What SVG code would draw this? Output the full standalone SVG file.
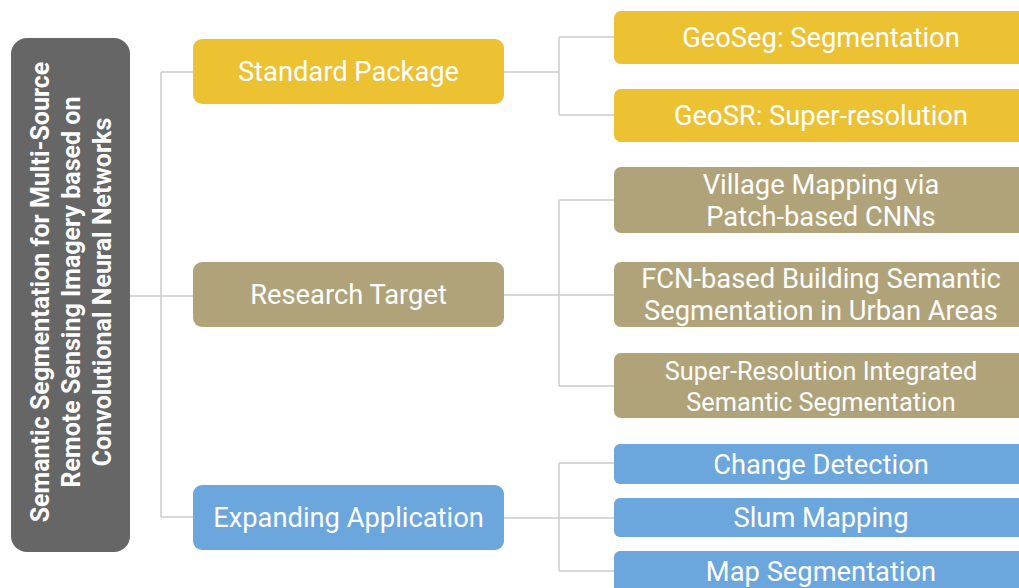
<svg xmlns="http://www.w3.org/2000/svg" width="1019" height="588" viewBox="0 0 1019 588">
<style>
.t{font-family:Roboto,"Liberation Sans",sans-serif;font-size:27.3px;fill:#fff;text-anchor:middle;dominant-baseline:central}
.s{font-size:25.3px}
.r{font-family:Roboto,"Liberation Sans",sans-serif;font-size:25px;font-weight:bold;fill:#fff;text-anchor:middle;dominant-baseline:central}
.y{fill:#ECC232}.o{fill:#B0A37A}.b{fill:#6BA6DC}.g{fill:#666666}
.c{fill:none;stroke:#cccccc;stroke-width:1.5}
</style>
<rect width="1019" height="588" fill="#fff"/>
<g id="connectors">
<path class="c" d="M130 296H161M161 72V517M161 72H193M161 296H193M161 517H193"/>
<path class="c" d="M504 72H559M559 37V115M559 37H614M559 115H614"/>
<path class="c" d="M504 295H559M559 200V386M559 200H614M559 295H614M559 386H614"/>
<path class="c" d="M504 518H559M559 463V571M559 463H614M559 518H614M559 571H614"/>
</g>
<g id="root"><rect class="g" x="11" y="38" width="119" height="514" rx="16"/>
<text class="r" transform="translate(71,292) rotate(-90)"><tspan x="0" y="-31">Semantic Segmentation for Multi-Source</tspan><tspan x="0" y="0">Remote Sensing Imagery based on</tspan><tspan x="0" y="31">Convolutional Neural Networks</tspan></text></g>
<g id="standard"><rect class="y" x="193" y="39" width="311" height="65" rx="9"/><text class="t" x="348.5" y="72">Standard Package</text></g>
<g id="research"><rect class="o" x="193" y="262" width="311" height="65" rx="9"/><text class="t" x="348.5" y="295">Research Target</text></g>
<g id="expanding"><rect class="b" x="193" y="485" width="311" height="65" rx="9"/><text class="t" x="348.5" y="518">Expanding Application</text></g>
<g id="geoseg"><rect class="y" x="614" y="11" width="420" height="53" rx="7"/><text class="t" x="821" y="38">GeoSeg: Segmentation</text></g>
<g id="geosr"><rect class="y" x="614" y="89" width="420" height="53" rx="7"/><text class="t" x="821" y="116">GeoSR: Super-resolution</text></g>
<g id="village"><rect class="o" x="614" y="167" width="420" height="66" rx="7"/><text class="t" x="821"><tspan x="821" y="185">Village Mapping via</tspan><tspan x="821" y="217">Patch-based CNNs</tspan></text></g>
<g id="fcn"><rect class="o" x="614" y="262" width="420" height="65" rx="7"/><text class="t" x="821"><tspan x="821" y="279">FCN-based Building Semantic</tspan><tspan x="821" y="311">Segmentation in Urban Areas</tspan></text></g>
<g id="superres"><rect class="o" x="614" y="353" width="420" height="65" rx="7"/><text class="t s" x="821"><tspan x="821" y="371">Super-Resolution Integrated</tspan><tspan x="821" y="402">Semantic Segmentation</tspan></text></g>
<g id="change"><rect class="b" x="614" y="444" width="420" height="40" rx="6"/><text class="t" x="821" y="465">Change Detection</text></g>
<g id="slum"><rect class="b" x="614" y="498" width="420" height="39" rx="6"/><text class="t" x="821" y="518">Slum Mapping</text></g>
<g id="mapseg"><rect class="b" x="614" y="551" width="420" height="45" rx="6"/><text class="t" x="821" y="572">Map Segmentation</text></g>
</svg>
